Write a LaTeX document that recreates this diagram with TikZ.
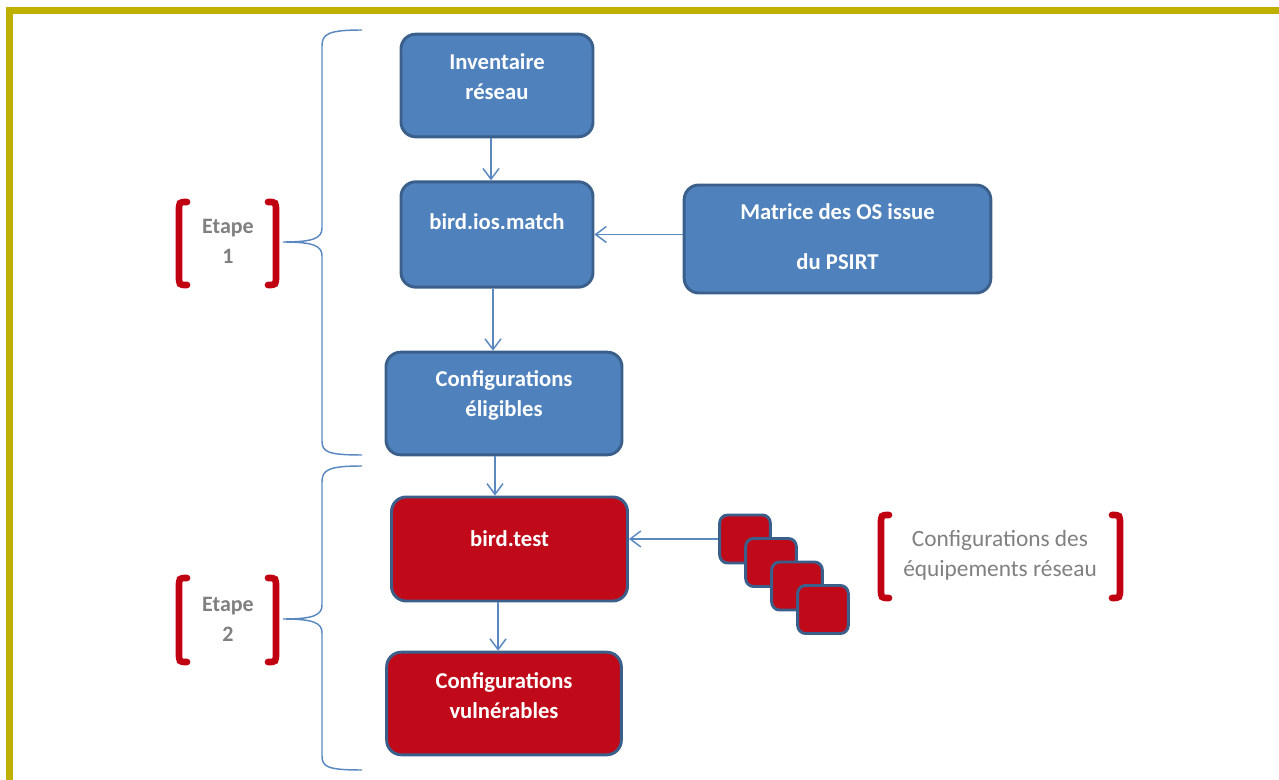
\documentclass[tikz,border=0pt]{standalone}
\usepackage{fontspec}
\setmainfont{Carlito}
\usepackage{tikz}
\usepackage{xcolor}
\usetikzlibrary{
  positioning, arrows.meta, calc,
}
\definecolor{cBoxBlue}  {HTML}{4F81BD}
\definecolor{cBoxEdge}  {HTML}{3A5F8B}
\definecolor{cBoxRed}   {HTML}{C00A1A}
\definecolor{cMarkRed}  {HTML}{C00010}
\definecolor{cNote}     {HTML}{808080}
\definecolor{cFrame}    {HTML}{BFB000}
\definecolor{cConn}     {HTML}{5A88C0}

\tikzset{
  box/.style={draw=cBoxEdge, line width=2.2pt, rounded corners=11pt, inner sep=0pt},
  blueBox/.style={box, fill=cBoxBlue},
  redBox/.style={box, fill=cBoxRed},
  boxText/.style={font=\bfseries\fontsize{17}{22.5}\selectfont, text=white, align=center},
  noteText/.style={font=\fontsize{17.5}{22.5}\selectfont, text=cNote, align=center},
  stepText/.style={font=\bfseries\fontsize{16.5}{22.5}\selectfont, text=cNote, align=center},
  conn/.style={draw=cConn, line width=1.1pt, -{Straight Barb[length=8pt,width=12pt]}},
  redMark/.style={draw=cMarkRed, line width=5pt, line cap=round},
  braceLine/.style={draw=cConn, line width=1.1pt},
}

% pair of red square brackets: left x, right x, top y, bottom y
\newcommand{\redBracketPair}[4]{%
  \draw[redMark] (#1+8,#3) .. controls (#1,#3) .. (#1,#3+10) -- (#1,#4-10) .. controls (#1,#4) .. (#1+8,#4);
  \draw[redMark] (#2-8,#3) .. controls (#2,#3) .. (#2,#3+10) -- (#2,#4-10) .. controls (#2,#4) .. (#2-8,#4);
}

\begin{document}
\begin{tikzpicture}[x=0.75pt, y=-0.75pt]
  \useasboundingbox (0,0) rectangle (1279,780);
  % frame
  \draw[cFrame, line width=5pt] (1279,10.5) -- (9.5,10.5) -- (9.5,780);

  % step 1
  \node[blueBox, minimum width=144pt, minimum height=77pt] (inv) at (497,85.5) {};
  \node[boxText] (inv-t) at ([yshift=6.75pt]inv.center) {Inventaire\\réseau};
  \node[blueBox, minimum width=144pt, minimum height=79pt] (ios) at (497,234.5) {};
  \node[boxText] (ios-t) at ([yshift=9.4pt]ios.center) {bird.ios.match};
  \node[blueBox, minimum width=230pt, minimum height=81pt] (mat) at (837.5,239) {};
  \node[boxText, font=\bfseries\fontsize{17}{37.5}\selectfont] (mat-t) at ([yshift=1.5pt]mat.center) {Matrice des OS issue\\du PSIRT};
  \node[blueBox, minimum width=177pt, minimum height=77pt] (elig) at (504,403.5) {};
  \node[boxText] (elig-t) at ([yshift=6.4pt]elig.center) {Configurations\\éligibles};

  % step 2
  \node[redBox, minimum width=177pt, minimum height=78pt] (test) at (509.5,549) {};
  \node[boxText] (test-t) at ([yshift=8pt]test.center) {bird.test};
  \node[redBox, minimum width=176pt, minimum height=77pt] (vul) at (504,703.5) {};
  \node[boxText] (vul-t) at ([yshift=6pt]vul.center) {Configurations\\vulnérables};

  % stack of device configurations
  \foreach \i in {0,...,3}
    \node[redBox, rounded corners=6pt, minimum width=38pt, minimum height=36pt]
      (sq\i) at ({745+26*\i},{539+23.5*\i}) {};

  % connectors
  \draw[conn] ([xshift=-4.5pt]inv.south) -- ([xshift=-4.5pt]inv.south |- ios.north);
  \draw[conn] ([xshift=-3pt]ios.south) -- ([xshift=-3pt]ios.south |- elig.north);
  \draw[conn] ([xshift=-6.75pt]elig.south) -- ([xshift=-6.75pt]elig.south |- test.north);
  \draw[conn] ([xshift=-8.6pt]test.south) -- ([xshift=-8.6pt]test.south |- vul.north);
  \draw[conn] (ios.east -| mat.west) -- (ios.east);
  \draw[conn] (sq0.west) -- (sq0.west -| test.east);

  % notes
  \node[noteText] (cfg-t) at (1000,555) {Configurations des\\équipements réseau};
  \redBracketPair{881}{1120}{515}{598}
  \node[stepText] (etape1) at (228,241.5) {Etape\\1};
  \redBracketPair{179}{276}{202}{285}
  \node[stepText] (etape2) at (228,619) {Etape\\2};
  \redBracketPair{179}{276}{578}{662}

  % braces
  \draw[braceLine] (362,30) .. controls (328,30) and (322,34) .. (322,46) -- (322,228)
    .. controls (322,238) and (314,242) .. (283,242)
    .. controls (314,242) and (322,246) .. (322,256) -- (322,441)
    .. controls (322,452) and (328,455) .. (362,455);
  \draw[braceLine] (362,466) .. controls (328,466) and (322,470) .. (322,482) -- (322,605)
    .. controls (322,615) and (314,619) .. (283,619)
    .. controls (314,619) and (322,623) .. (322,633) -- (322,756)
    .. controls (322,767) and (328,770) .. (362,770);
\end{tikzpicture}
\end{document}
